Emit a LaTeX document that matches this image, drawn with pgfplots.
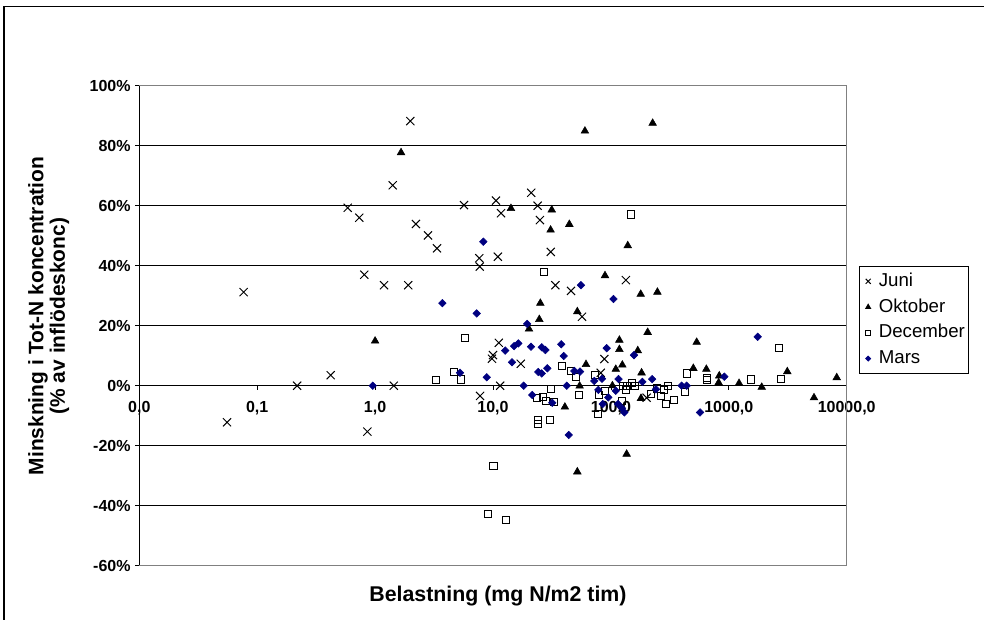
\documentclass[border=0pt]{standalone}
\usepackage{pgfplots}
\pgfplotsset{compat=1.18}
\usepackage{fontspec}
\setmainfont{Liberation Sans}
\definecolor{navy}{RGB}{0,0,128}
\begin{document}
\begin{tikzpicture}
\useasboundingbox (0,0) rectangle (738pt,464.25pt);
\draw[black, line width=1.1pt] (3pt,-2pt) -- (3pt,459.4pt) -- (740pt,459.4pt);
\begin{axis}[
  at={(104.475pt,39.975pt)}, anchor=south west,
  scale only axis, width=530.55pt, height=360pt,
  xmode=log, xmin=0.01, xmax=10000, ymin=-60, ymax=100,
  axis x line=middle, axis y line=left,
  axis line style={-, black, line width=0.8pt},
  hide obscured x ticks=false, hide obscured y ticks=false,
  xtick={0.01,0.1,1,10,100,1000,10000},
  xticklabels={{0,0},{0,1},{1,0},{10,0},{100,0},{1000,0},{10000,0}},
  xminorticks=false, minor xtick={},
  ytick={-60,-40,-20,0,20,40,60,80,100},
  yticklabels={-60\%,-40\%,-20\%,0\%,20\%,40\%,60\%,80\%,100\%},
  tick align=outside, major tick length=3pt,
  tick style={black, line width=0.6pt},
  ymajorgrids, grid style={black, line width=0.75pt},
  tick label style={font=\bfseries\fontsize{12}{14}\selectfont},
  xticklabel style={yshift=-5pt},
  xlabel={Belastning (mg N/m2 tim)},
  xlabel style={at={(axis description cs:0.507,-0.063)}, anchor=center, font=\bfseries\fontsize{16}{18}\selectfont},
  ylabel={Minskning i Tot-N koncentration\\(\% av inflödeskonc)},
  ylabel style={at={(axis description cs:-0.128,0.52)}, anchor=center, align=center, font=\bfseries\fontsize{15.7}{16}\selectfont},
  legend style={at={(axis description cs:1.0174,0.6244)}, anchor=north west, draw=black, line width=0.75pt,
    font=\fontsize{14}{16}\selectfont, inner xsep=2pt, inner ysep=3.4pt, row sep=3.8pt,
    nodes={inner sep=1pt, text height=10.5pt, text depth=3pt},
    /tikz/every odd column/.append style={column sep=2.5pt}},
  legend cell align=left,
  legend image code/.code={\path[draw=none,fill=none] (0pt,-3pt) rectangle (9pt,3pt); \draw[#1, /tikz/every mark/.append style={scale=0.62}] plot coordinates {(4.5pt,0pt)};},
  clip=false,
]
\draw[gray, line width=0.8pt] (rel axis cs:0,1) -- (rel axis cs:1,1) -- (rel axis cs:1,0) -- (rel axis cs:0,0);
\addplot[only marks, mark=x, mark size=4.3pt, black, line width=0.75pt] coordinates {
(0.0555,-12.2) (0.0767,31.2) (0.218,0) (0.42,3.5) (0.586,59.3) (0.734,56) (0.81,37) (0.86,-15.3)
(1.19,33.5) (1.41,66.8) (1.44,0) (1.91,33.5) (1.99,88.2) (2.22,53.9) (2.81,50.1) (3.35,45.8)
(5.68,60.2) (7.65,42.5) (7.72,39.7) (7.77,-3.4) (9.8,9.0) (10.0,10.2) (10.6,61.7) (11.0,43)
(11.2,14.3) (11.5,0) (11.7,57.5) (17.2,7.3) (21.1,64.3) (23.9,60) (25.0,55.2) (30.9,44.6)
(33.8,33.5) (45.9,31.6) (56.9,23) (82,4.3) (88,8.9) (134,35.2) (201,-4)
};
\addlegendentry{Juni}
\addplot[only marks, mark=triangle*, mark size=3.3pt, black] coordinates {
(1.0,14.9) (1.66,77.7) (14.2,59.1) (20.2,18.9) (24.7,22.1) (25.2,27.5) (30.8,51.9) (31.5,58.6)
(40.7,-7.1) (44.4,53.8) (51.9,24.7) (51.9,-28.7) (54.3,-0.1) (60.2,84.9) (61.5,7.1) (89.1,36.7)
(103,0) (110,5.5) (118,15.2) (118,12.1) (125,6.9) (136,-22.8) (139,46.7) (169,11.7)
(179,30.5) (180,-4.2) (182,4.3) (205,17.8) (226,87.5) (248,31.2) (500,5.8) (534,14.5)
(645,5.5) (820,1) (830,3.3) (1222,0.8) (1903,-0.5) (3134,4.7) (5280,-4) (8230,2.7)
};
\addlegendentry{Oktober}
\addplot[only marks, mark=square, mark size=2.7pt, black, line width=0.75pt, mark options={fill=white}] coordinates {
(3.29,1.9) (4.67,4.6) (5.32,2.1) (5.82,16) (9.0,-42.8) (10.1,-26.7) (12.8,-44.8) (23.6,-4.2)
(23.9,-11.4) (23.9,-12.7) (26.7,-3.7) (27.2,37.8) (28,-5.1) (30.3,-11.4) (31.2,-1) (32.9,-5.3)
(38.7,6.6) (45.9,5) (50.6,2.9) (53.6,-3.1) (73.3,3.6) (77.3,-9.3) (79.3,-3.2) (89,-1.8)
(124,-5.1) (126,0) (134,-1.4) (136,0) (149,57.1) (152,0.8) (161,0) (219,-2.8)
(245,-0.9) (264,-3.4) (282,-1.4) (293,-6.1) (303,0) (343,-4.8) (423,-2) (439,4.1)
(657,2.7) (657,1.8) (1535,2.1) (2667,12.6) (2754,2.3)
};
\addlegendentry{December}
\addplot[only marks, mark=square*, mark size=2pt, navy, mark options={rotate=45}] coordinates {
(0.955,0) (3.72,27.5) (5.25,4.3) (7.28,24.1) (8.28,48) (8.85,2.8) (12.7,11.7) (14.5,7.8)
(15.1,13.2) (16.4,14.1) (18.2,0) (19.5,20.6) (21,13) (21.5,-3.1) (24.2,4.6) (25.9,4.1)
(25.9,12.8) (27.8,11.9) (28.9,5.8) (31.8,-5.7) (37.9,13.8) (39.8,9.9) (42.2,0) (43.9,-16.4)
(49,4.9) (54.7,4.7) (55.7,33.5) (72.3,1.6) (78.2,-1.4) (84.1,2.3) (85.2,-6.1) (92.1,12.5)
(95,-3.9) (105,28.9) (110,-1.7) (115,-6.1) (116,2.2) (124,-7.5) (130,-8.9) (157,10.2)
(185,1.3) (224,2.2) (241,-1.2) (398,0) (439,0) (570,-8.9) (916,3) (1758,16.3)
};
\addlegendentry{Mars}
\end{axis}
\end{tikzpicture}
\end{document}
